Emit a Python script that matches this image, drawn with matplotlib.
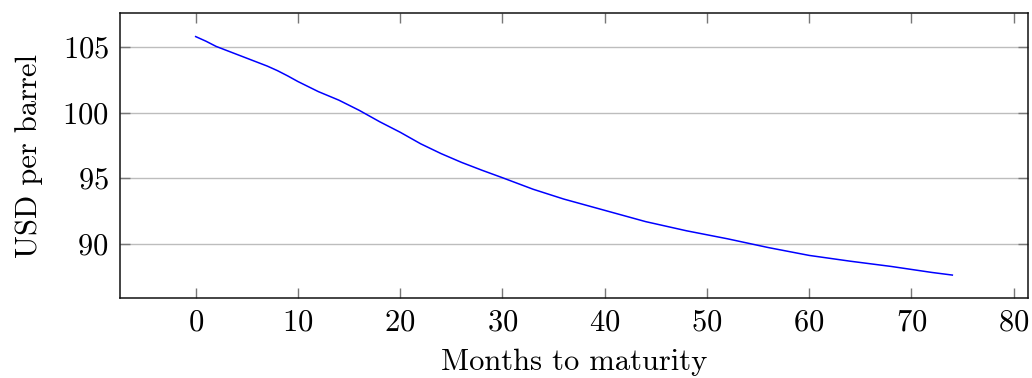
import matplotlib
matplotlib.use("Agg")
import matplotlib.pyplot as plt

months = [0, 1, 2, 3, 4, 5, 6, 7, 8, 9, 10, 12, 14, 16, 18, 20, 22, 24, 26,
          28, 30, 33, 36, 40, 44, 48, 52, 56, 60, 64, 68, 72, 74]
prices = [105.8, 105.45, 105.05, 104.75, 104.45, 104.15, 103.85, 103.55,
          103.2, 102.8, 102.37, 101.6, 100.95, 100.17, 99.3, 98.5, 97.62,
          96.87, 96.2, 95.6, 95.03, 94.15, 93.4, 92.54, 91.68, 90.98, 90.37,
          89.7, 89.1, 88.66, 88.26, 87.8, 87.6]
x_ticks = [0, 10, 20, 30, 40, 50, 60, 70, 80]
y_ticks = [90, 95, 100, 105]
x_label = "Months to maturity"
y_label = "USD per barrel"

plt.rcParams['font.family'] = ['cmr10', 'DejaVu Serif']
plt.rcParams['mathtext.fontset'] = 'cm'
plt.rcParams['axes.formatter.use_mathtext'] = True

fig = plt.figure(figsize=(10.32, 3.78), dpi=100)
ax = fig.add_axes([120/1032, 1-298/378, (1028-120)/1032, (298-13)/378])

ax.plot(months, prices, color='#0000ff', lw=1.1)

ax.set_xlim(-7.4, 81.4)
ax.set_ylim(85.85, 107.6)
ax.set_xticks(x_ticks)
ax.set_yticks(y_ticks)
ax.yaxis.grid(True, color='#bdbdbd', lw=1.0)
ax.set_axisbelow(True)
ax.tick_params(direction='in', length=7.5, width=1.0, color='#777777',
               top=True, right=True, labelsize=22, pad=8)
for s in ax.spines.values():
    s.set_color('#111111')
    s.set_linewidth(1.1)
ax.set_xlabel(x_label, fontsize=22, labelpad=9)
ax.set_ylabel(y_label, fontsize=22, labelpad=14)

fig.savefig("out.png", dpi=100)
